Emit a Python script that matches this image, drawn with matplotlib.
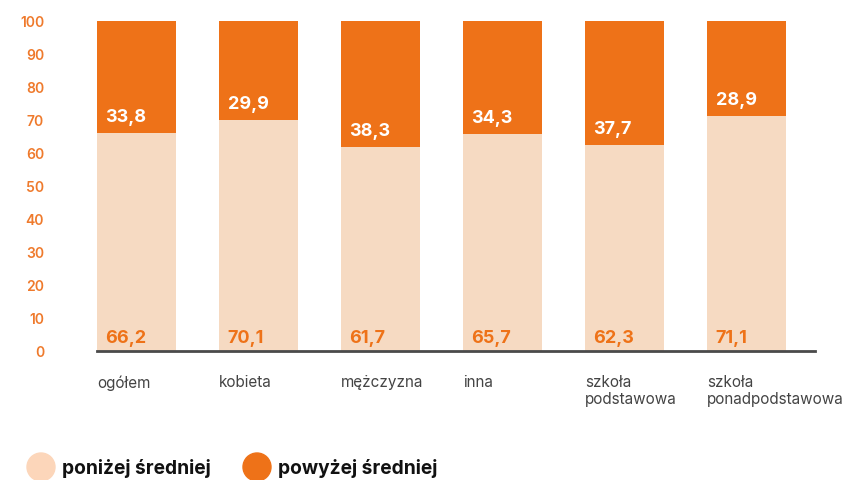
import matplotlib.pyplot as plt
from matplotlib.patches import Ellipse

plt.rcParams['font.family'] = ['Inter', 'DejaVu Sans']

categories = ['ogółem', 'kobieta', 'mężczyzna', 'inna', 'szkoła\npodstawowa', 'szkoła\nponadpodstawowa']
below_avg = [66.2, 70.1, 61.7, 65.7, 62.3, 71.1]
above_avg = [33.8, 29.9, 38.3, 34.3, 37.7, 28.9]
yticks = [0, 10, 20, 30, 40, 50, 60, 70, 80, 90, 100]

light = '#F6DAC2'
orange = '#EE7218'
tick_orange = '#EF7A2C'

W, H = 854, 481
fig = plt.figure(figsize=(W / 100, H / 100), dpi=100)
ax = fig.add_axes([97 / W, (H - 352) / H, (815 - 97) / W, (352 - 22) / H])

step = 122
width = 79 / step
x = list(range(len(categories)))

ax.bar(x, below_avg, width=width, align='edge', color=light)
ax.bar(x, above_avg, width=width, bottom=below_avg, align='edge', color=orange)

# value labels: lower part in orange, upper part in white
for i in x:
    ax.text(i + 0.07, 4.2, f'{below_avg[i]:.1f}'.replace('.', ','), color=orange,
            fontsize=13, fontweight='bold', va='center', ha='left')
    ax.text(i + 0.07, below_avg[i] + 5, f'{above_avg[i]:.1f}'.replace('.', ','), color='white',
            fontsize=13, fontweight='bold', va='center', ha='left')
    ax.text(i, -7, categories[i], color='#444444', fontsize=11, va='top', ha='left',
            linespacing=1.15)

ax.set_xlim(0, (815 - 97) / step)
ax.set_ylim(0, 100)
ax.set_yticks(yticks)
ax.set_yticklabels([str(t) for t in yticks], color=tick_orange, fontsize=10, fontweight='semibold')
ax.tick_params(axis='y', length=0, pad=38)
ax.set_xticks([])
for s in ['top', 'right', 'left']:
    ax.spines[s].set_visible(False)
ax.spines['bottom'].set_color('#4a4a4a')
ax.spines['bottom'].set_linewidth(2)
for lbl in ax.get_yticklabels():
    lbl.set_horizontalalignment('right')

# legend with round markers
lax = fig.add_axes([0, 0, 1, 1])
lax.set_xlim(0, W)
lax.set_ylim(H, 0)
lax.axis('off')
lax.add_patch(Ellipse((41, 468), 28, 28, color='#FCD6BA'))
lax.text(62, 469, 'poniżej średniej', fontsize=13.8, fontweight='bold', va='center', ha='left', color='#111111')
lax.add_patch(Ellipse((257, 468), 28, 28, color=orange))
lax.text(278, 469, 'powyżej średniej', fontsize=13.8, fontweight='bold', va='center', ha='left', color='#111111')

fig.savefig('out.png', dpi=100)
